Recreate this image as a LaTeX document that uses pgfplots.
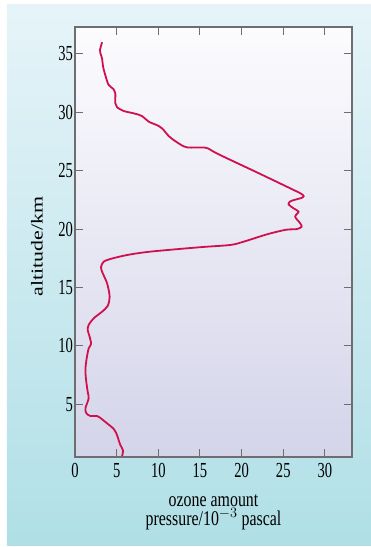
\documentclass[border=0pt]{standalone}
\usepackage{fontspec}
\setmainfont{Liberation Serif}[FakeStretch=0.76]
\newfontfamily\tickfont{Liberation Serif}[FakeStretch=0.68]
\newfontfamily\plainserif{Liberation Serif}
\usepackage{graphicx}
\usepackage{pgfplots}
\pgfplotsset{compat=1.18}

\definecolor{paneltop}{RGB}{230,244,249}
\definecolor{panelbottom}{RGB}{176,223,230}
\definecolor{plottop}{RGB}{252,252,254}
\definecolor{plotbottom}{RGB}{212,212,234}
\definecolor{ozone}{RGB}{208,16,76}
\definecolor{frame}{RGB}{110,110,112}

\begin{document}
\begin{tikzpicture}
  % light blue panel behind the chart
  \shade[top color=paneltop, bottom color=panelbottom]
    (-68bp,-88bp) rectangle (296bp,452bp);
  \path[use as bounding box] (-75bp,-90bp) rectangle (296bp,457bp);
  \begin{axis}[
    at={(0,0)}, anchor=south west,
    scale only axis, width=277bp, height=430bp,
    xmin=0, xmax=33.25, ymin=0.49, ymax=37.3,
    xtick={0,5,...,30}, ytick={5,10,...,35},
    tick align=inside, major tick length=8bp,
    axis line style={draw=frame, line width=1.4bp},
    tick style={draw=frame, line width=1bp},
    axis background/.style={shade, top color=plottop, bottom color=plotbottom},
    /pgf/number format/assume math mode=true,
    ticklabel style={font=\tickfont\fontsize{21.5}{23}\selectfont},
    xticklabel style={yshift=-3bp},
    yticklabel style={xshift=1.5bp},
    xlabel={ozone amount\\pressure/10\smash{$^{-3}$} pascal},
    xlabel style={align=center, font=\fontsize{21}{19}\selectfont,
                  at={(axis description cs:0.5,0)}, anchor=north, yshift=-34bp},
    ylabel={\scalebox{1}[0.76]{\plainserif altitude/km}},
    ylabel style={font=\fontsize{22}{24}\selectfont,
                  at={(axis description cs:-0.1166,0.49)}, anchor=base},
  ]
    \addplot[ozone, line width=1.8bp, smooth] coordinates {
      (3.25,36.0) (3.0,35.33) (3.05,35.05) (3.25,34.6) (3.37,33.9)
      (3.69,33.05) (4.04,32.34) (4.64,31.97) (4.84,31.63) (4.84,30.77)
      (5.05,30.43) (5.84,30.11) (7.04,29.91) (8.04,29.68) (8.84,29.2)
      (10.04,28.83) (10.64,28.48) (11.24,27.97) (12.24,27.43) (13.44,27.0)
      (15.64,26.97) (16.63,26.63) (17.83,26.2) (22.0,24.8) (26.3,23.33)
      (27.2,23.0) (27.45,22.82) (27.2,22.67) (26.6,22.55) (25.85,22.38)
      (25.63,22.12) (26.23,21.78) (26.83,21.49)
      (26.43,21.06) (27.03,20.5) (27.2,20.2) (26.63,20.0) (25.3,19.94)
      (23.04,19.55) (20.23,18.92) (18.63,18.64) (15.04,18.45) (9.04,18.07)
      (6.25,17.78) (4.24,17.44) (3.44,17.21) (3.13,16.78) (3.25,16.35)
      (3.85,15.36) (4.16,14.21) (3.92,13.42) (3.25,12.93) (2.24,12.36)
      (1.64,11.79) (1.52,11.36) (1.76,10.79) (1.93,10.16) (1.64,9.79)
      (1.37,8.79) (1.25,7.94) (1.33,7.08) (1.52,6.08) (1.64,5.51)
      (1.25,4.66) (1.37,4.23) (1.85,4.0) (2.65,4.0) (3.25,3.72)
      (3.85,3.37) (4.57,2.95) (4.96,2.52) (5.24,1.94) (5.44,1.52)
      (5.77,1.03) (5.65,0.57)
    };
  \end{axis}
\end{tikzpicture}
\end{document}
